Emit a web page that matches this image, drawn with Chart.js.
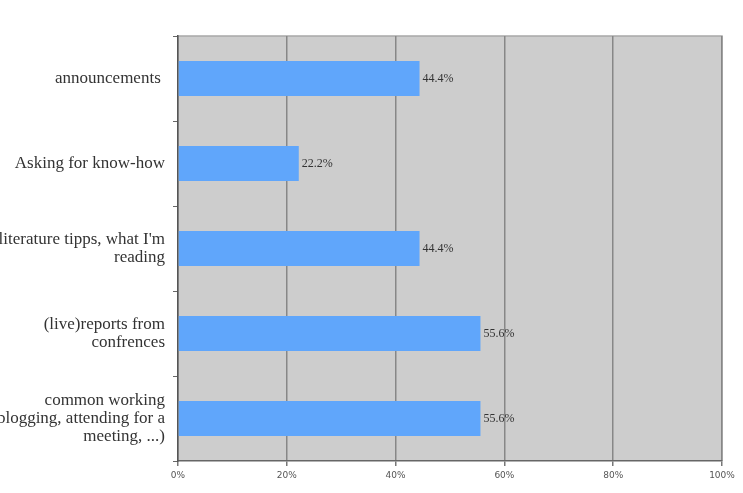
<!DOCTYPE html>
<html>
<head>
<meta charset="utf-8">
<script src="https://cdn.jsdelivr.net/npm/chart.js@4"></script>
<style>
  html, body { margin: 0; padding: 0; background: #fff; }
  #wrap { width: 743px; height: 493px; }
</style>
</head>
<body>
<div id="wrap"><canvas id="chart" width="743" height="493"></canvas></div>
<script>
// categories, top to bottom
const categories = [
    'announcements ',
    'Asking for know-how',
    ["literature tipps, what I'm", 'reading'],
    ['(live)reports from', 'confrences'],
    ['common working', '(blogging, attending for a', 'meeting, ...)']
];
const percents = [44.4, 22.2, 44.4, 55.6, 55.6];
const xTicks = [0, 20, 40, 60, 80, 100];

// gray plot area + light frame on top/right
const plotBackground = {
    id: 'plotBackground',
    beforeDraw(chart) {
        const { ctx, chartArea: a } = chart;
        ctx.save();
        ctx.fillStyle = '#cdcdcd';
        ctx.fillRect(a.left, a.top, a.right - a.left, a.bottom - a.top);
        ctx.strokeStyle = '#a8a8a8';
        ctx.lineWidth = 1.5;
        ctx.beginPath();
        ctx.moveTo(a.left, a.top);
        ctx.lineTo(a.right, a.top);
        ctx.lineTo(a.right, a.bottom);
        ctx.stroke();
        ctx.restore();
    }
};

// "44.4%" after each bar
const valueLabels = {
    id: 'valueLabels',
    afterDatasetsDraw(chart) {
        const { ctx } = chart;
        const meta = chart.getDatasetMeta(0);
        ctx.save();
        ctx.font = '12px "Liberation Serif", serif';
        ctx.fillStyle = '#333';
        ctx.textAlign = 'left';
        ctx.textBaseline = 'middle';
        meta.data.forEach((bar, i) => {
            ctx.fillText(percents[i].toFixed(1) + '%', bar.x + 3, bar.y);
        });
        ctx.restore();
    }
};

new Chart(document.getElementById('chart').getContext('2d'), {
    type: 'bar',
    data: {
        labels: categories,
        datasets: [{
            data: percents,
            backgroundColor: '#60a6fb',
            borderWidth: 0,
            barPercentage: 0.82,
            categoryPercentage: 0.5
        }]
    },
    options: {
        indexAxis: 'y',
        responsive: false,
        animation: false,
        layout: { padding: { top: 36, right: 21, left: 0, bottom: 0 } },
        plugins: { legend: { display: false }, tooltip: { enabled: false } },
        scales: {
            x: {
                min: 0,
                max: 100,
                afterBuildTicks: axis => { axis.ticks = xTicks.map(v => ({ value: v })); },
                afterFit: axis => { axis.height = 32; },
                grid: { color: '#878787', lineWidth: 1.5, tickLength: 5, tickColor: '#777' },
                border: { color: '#666', width: 1.5 },
                ticks: {
                    callback: v => v + '%',
                    font: { family: '"DejaVu Sans", sans-serif', size: 9 },
                    color: '#555',
                    padding: 4,
                    maxRotation: 0
                }
            },
            y: {
                afterFit: axis => { axis.width = 178; },
                grid: { offset: true, drawOnChartArea: false, tickLength: 5, tickColor: '#666' },
                border: { color: '#555', width: 1.5 },
                ticks: {
                    font: { family: '"Liberation Serif", serif', size: 17, lineHeight: 1.05 },
                    color: '#333',
                    padding: 8,
                    autoSkip: false
                }
            }
        }
    },
    plugins: [plotBackground, valueLabels]
});
</script>
</body>
</html>
